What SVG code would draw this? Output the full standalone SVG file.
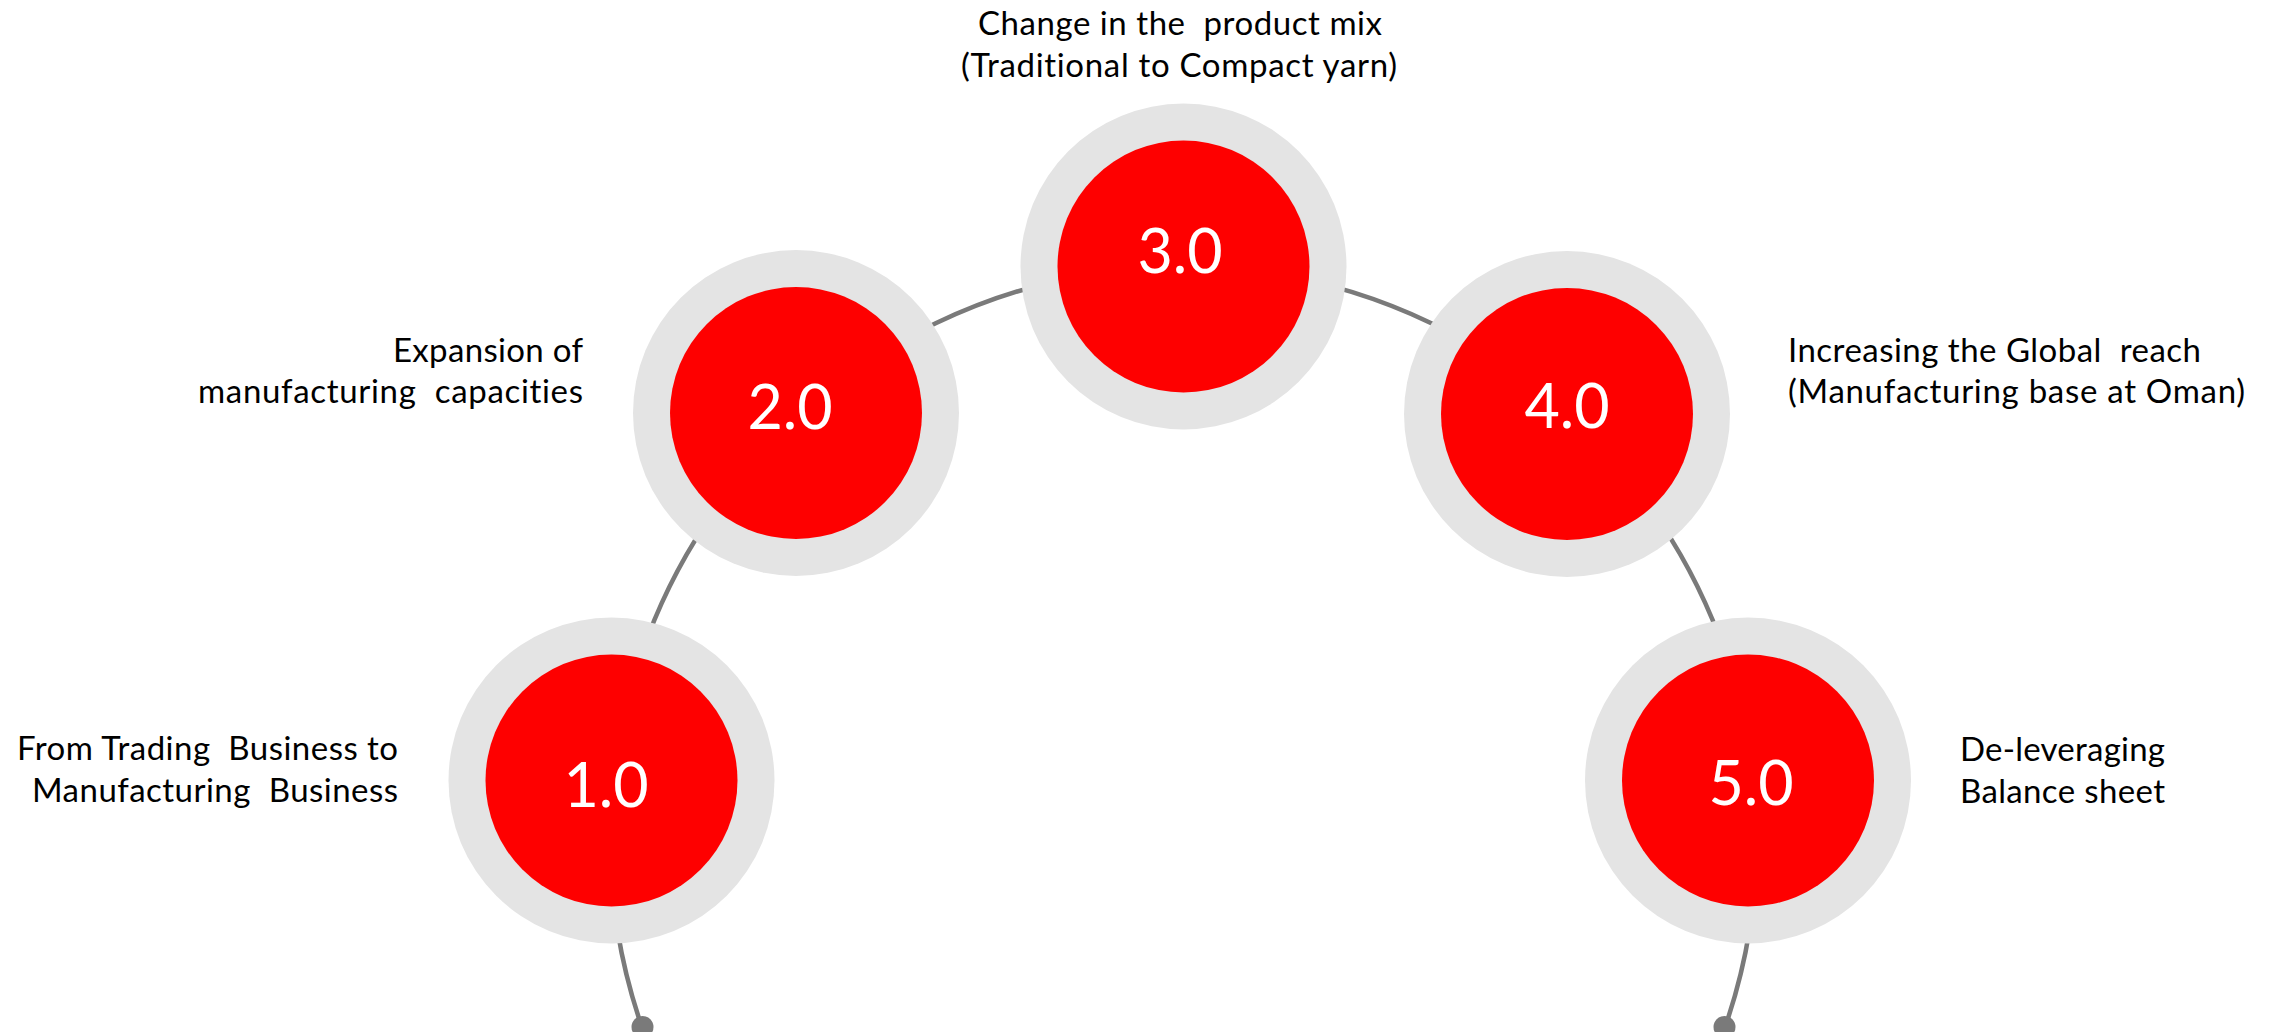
<svg xmlns="http://www.w3.org/2000/svg" width="2275" height="1032" viewBox="0 0 2275 1032">
  <style>
    .ring { fill: #e4e4e4; }
    .core { fill: #fe0000; }
    .num { font-family: Lato, "Liberation Sans", sans-serif; font-size: 61px; fill: #ffffff; text-anchor: middle; }
    .lbl { font-family: Lato, "Liberation Sans", sans-serif; font-size: 33px; fill: #000000; white-space: pre; font-variant-ligatures: none; }
    .conn { fill: none; stroke: #7a7a7a; stroke-width: 4.5; }
    .dot { fill: #7a7a7a; }
  </style>
  <rect x="0" y="0" width="2275" height="1032" fill="#ffffff"/>
  <g id="connectors">
    <path class="conn" d="M 641.9 1027 A 573 573 0 1 1 1725.1 1027"/>
    <circle class="dot" cx="642.5" cy="1027" r="11"/>
    <circle class="dot" cx="1724.5" cy="1027" r="11"/>
  </g>
  <g id="node1">
    <circle class="ring" cx="611.5" cy="780.5" r="163"/>
    <circle class="core" cx="611.5" cy="780.5" r="126"/>
    <text class="num" x="606" y="807">1.0</text>
    <text class="lbl" x="398" y="760" text-anchor="end" textLength="381">From Trading  Business to</text>
    <text class="lbl" x="398" y="802" text-anchor="end" textLength="366">Manufacturing  Business</text>
  </g>
  <g id="node2">
    <circle class="ring" cx="796" cy="413" r="163"/>
    <circle class="core" cx="796" cy="413" r="126"/>
    <text class="num" x="790" y="429">2.0</text>
    <text class="lbl" x="583" y="362" text-anchor="end" textLength="190">Expansion of</text>
    <text class="lbl" x="583" y="403" text-anchor="end" textLength="385">manufacturing  capacities</text>
  </g>
  <g id="node3">
    <circle class="ring" cx="1183.5" cy="266.5" r="163"/>
    <circle class="core" cx="1183.5" cy="266.5" r="126"/>
    <text class="num" x="1180" y="273">3.0</text>
    <text class="lbl" x="1180" y="35" text-anchor="middle" textLength="404">Change in the  product mix</text>
    <text class="lbl" x="1179" y="77" text-anchor="middle" textLength="436">(Traditional to Compact yarn)</text>
  </g>
  <g id="node4">
    <circle class="ring" cx="1567" cy="414" r="163"/>
    <circle class="core" cx="1567" cy="414" r="126"/>
    <text class="num" x="1567" y="428">4.0</text>
    <text class="lbl" x="1788" y="362" textLength="413">Increasing the Global  reach</text>
    <text class="lbl" x="1788" y="403" textLength="457">(Manufacturing base at Oman)</text>
  </g>
  <g id="node5">
    <circle class="ring" cx="1748" cy="780.5" r="163"/>
    <circle class="core" cx="1748" cy="780.5" r="126"/>
    <text class="num" x="1751" y="805">5.0</text>
    <text class="lbl" x="1960" y="761" textLength="205">De-leveraging</text>
    <text class="lbl" x="1960" y="803" textLength="205">Balance sheet</text>
  </g>
</svg>
